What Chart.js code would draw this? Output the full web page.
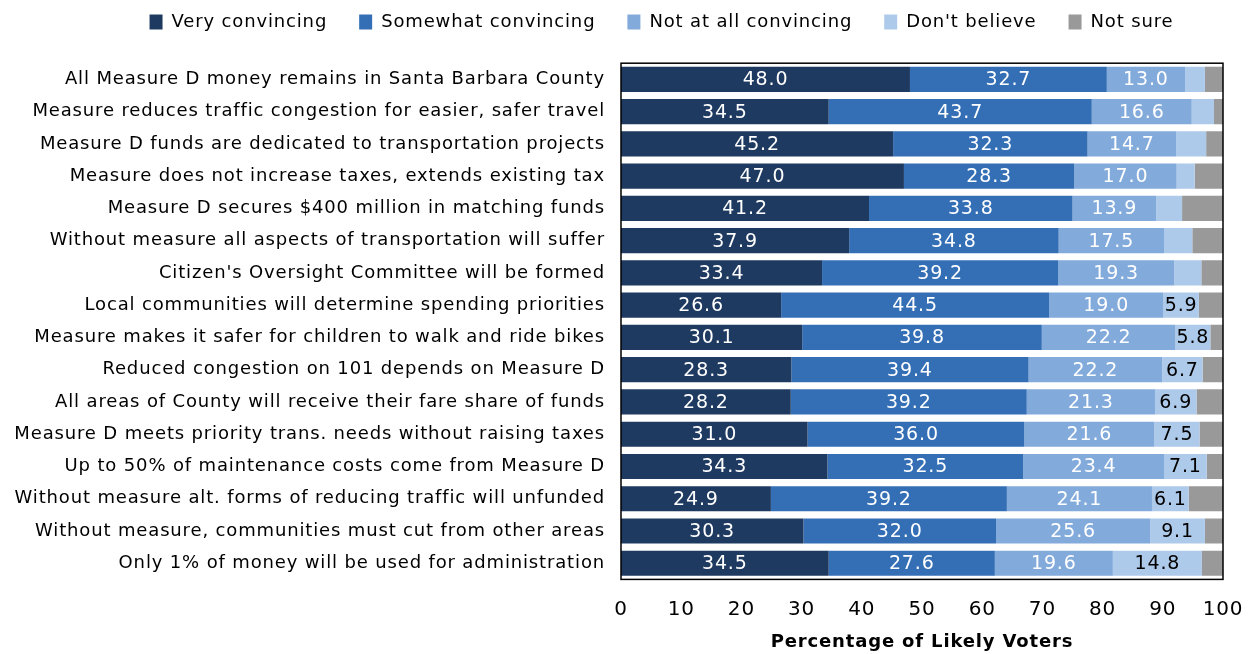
<!DOCTYPE html>
<html>
<head>
<meta charset="utf-8">
<script src="https://cdn.jsdelivr.net/npm/chart.js@4.4.1/dist/chart.umd.min.js"></script>
<style>
  html, body { margin:0; padding:0; background:#fff; }
  #wrap { width:1251px; height:654px; position:relative; }
</style>
</head>
<body>
<div id="wrap"><canvas id="chart"></canvas></div>
<script>
// ================= DATA ==================
const CATEGORIES = [
  "All Measure D money remains in Santa Barbara County",
  "Measure reduces traffic congestion for easier, safer travel",
  "Measure D funds are dedicated to transportation projects",
  "Measure does not increase taxes, extends existing tax",
  "Measure D secures $400 million in matching funds",
  "Without measure all aspects of transportation will suffer",
  "Citizen's Oversight Committee will be formed",
  "Local communities will determine spending priorities",
  "Measure makes it safer for children to walk and ride bikes",
  "Reduced congestion on 101 depends on Measure D",
  "All areas of County will receive their fare share of funds",
  "Measure D meets priority trans. needs without raising taxes",
  "Up to 50% of maintenance costs come from Measure D",
  "Without measure alt. forms of reducing traffic will unfunded",
  "Without measure, communities must cut from other areas",
  "Only 1% of money will be used for administration"
];

const VERY       = [48.0, 34.5, 45.2, 47.0, 41.2, 37.9, 33.4, 26.6, 30.1, 28.3, 28.2, 31.0, 34.3, 24.9, 30.3, 34.5];
const SOMEWHAT   = [32.7, 43.7, 32.3, 28.3, 33.8, 34.8, 39.2, 44.5, 39.8, 39.4, 39.2, 36.0, 32.5, 39.2, 32.0, 27.6];
const NOT_AT_ALL = [13.0, 16.6, 14.7, 17.0, 13.9, 17.5, 19.3, 19.0, 22.2, 22.2, 21.3, 21.6, 23.4, 24.1, 25.6, 19.6];
const DONT       = [ 3.3,  3.7,  5.0,  3.0,  4.3,  4.7,  4.5,  5.9,  5.8,  6.7,  6.9,  7.5,  7.1,  6.1,  9.1, 14.8];
const NOT_SURE   = [ 3.0,  1.5,  2.8,  4.7,  6.8,  5.1,  3.6,  4.0,  2.1,  3.4,  4.4,  3.9,  2.7,  5.7,  3.0,  3.5];

const SERIES_NAMES = ["Very convincing", "Somewhat convincing", "Not at all convincing", "Don't believe", "Not sure"];
const X_TICKS = [0, 10, 20, 30, 40, 50, 60, 70, 80, 90, 100];
const X_TITLE = "Percentage of Likely Voters";

// ============= STYLE =============
const COLORS = ["#1f3a61", "#346fb6", "#82aadb", "#aecaea", "#999999"];
const LABEL_COLORS = ["#ffffff", "#ffffff", "#ffffff", "#000000", null];
const FONT = "'DejaVu Sans', Verdana, sans-serif";
const LETTER_SPACING = "0.85px";
const MIN_LABEL = 5.5;     // segmentos menores no se etiquetan
const PAD_LEFT = 8;
const PAD_RIGHT = 28;
const PLOT_LEFT = 621;     // borde izquierdo del area de barras
const LEGEND_SHIFT = 46;   // la leyenda no esta centrada en el lienzo

// ============= PLUGINS =============
// espaciado de letras para todo el texto del canvas
const spacing = {
  id: "spacing",
  beforeUpdate(chart){ chart.ctx.letterSpacing = LETTER_SPACING; },
  beforeDraw(chart){ chart.ctx.letterSpacing = LETTER_SPACING; }
};

// mover la leyenda a la derecha
const legendShift = {
  id: "legendShift",
  afterLayout(chart){
    if (!chart.legend) return;
    chart.legend.left += LEGEND_SHIFT;
    chart.legend.right += LEGEND_SHIFT;
  }
};

// marco negro alrededor del area del grafico
const frame = {
  id: "frame",
  afterDatasetsDraw(chart){
    const { ctx, chartArea:a } = chart;
    ctx.save();
    ctx.strokeStyle = "#000";
    ctx.lineWidth = 1.5;
    ctx.strokeRect(a.left, a.top, a.right - a.left, a.bottom - a.top);
    ctx.restore();
  }
};

// etiquetas de valor en el centro de cada segmento
const barLabels = {
  id: "barLabels",
  afterDatasetsDraw(chart){
    const ctx = chart.ctx;
    ctx.save();
    ctx.font = "19px " + FONT;
    ctx.textAlign = "center";
    ctx.textBaseline = "middle";
    chart.data.datasets.forEach((ds, di) => {
      if (!LABEL_COLORS[di]) return;
      const meta = chart.getDatasetMeta(di);
      meta.data.forEach((bar, i) => {
        const v = ds.data[i];
        if (v < MIN_LABEL) return;
        const cx = (bar.x + bar.base) / 2;
        ctx.fillStyle = LABEL_COLORS[di];
        ctx.fillText(v.toFixed(1), cx, bar.y + 1);
      });
    });
    ctx.restore();
  }
};

// ============= CHART =============
const allSeries = [VERY, SOMEWHAT, NOT_AT_ALL, DONT, NOT_SURE];

new Chart(document.getElementById("chart"), {
  type: "bar",
  data: {
    labels: CATEGORIES,
    datasets: allSeries.map((d, i) => ({
      label: SERIES_NAMES[i],
      data: d,
      backgroundColor: COLORS[i],
      borderWidth: 0,
      barPercentage: 0.78,
      categoryPercentage: 1.0
    }))
  },
  options: {
    indexAxis: "y",
    responsive: true,
    maintainAspectRatio: false,
    animation: false,
    layout: { padding: { left: PAD_LEFT, right: PAD_RIGHT, top: -19, bottom: 1 } },
    plugins: {
      tooltip: { enabled: false },
      legend: {
        position: "top",
        weight: 3000,
        labels: {
          color: "#000",
          font: { family: FONT, size: 18 },
          boxWidth: 13,
          boxHeight: 15,
          padding: 32
        }
      },
      // espaciador entre leyenda y grafico
      subtitle: { display: true, text: " ", font: { size: 1 }, padding: { top: 0, bottom: 21 } }
    },
    scales: {
      x: {
        stacked: true,
        min: 0,
        max: 100,
        afterBuildTicks: (axis) => { axis.ticks = X_TICKS.map(v => ({ value: v })); },
        afterFit: (axis) => { axis.paddingLeft = 0; axis.paddingRight = 0; },
        grid: { display: false, drawTicks: false },
        border: { display: false },
        ticks: { color: "#000", font: { family: FONT, size: 20 }, padding: 18 },
        title: { display: true, text: X_TITLE, color: "#000", font: { family: FONT, size: 18, weight: "bold" }, padding: { top: -8, bottom: 0 } }
      },
      y: {
        stacked: true,
        afterFit: (axis) => { axis.width = PLOT_LEFT - PAD_LEFT; },
        grid: { display: false, drawTicks: false },
        border: { display: false },
        ticks: { color: "#000", font: { family: FONT, size: 18 }, padding: 16 }
      }
    }
  },
  plugins: [spacing, legendShift, frame, barLabels]
});
</script>
</body>
</html>
